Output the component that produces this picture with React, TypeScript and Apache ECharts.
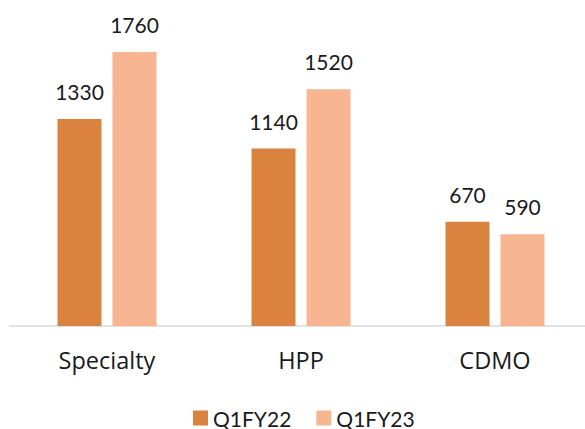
import React, { useEffect, useRef } from "react";
import * as echarts from "echarts";

const categories = ["Specialty", "HPP", "CDMO"];
const q1fy22 = [1330, 1140, 670];
const q1fy23 = [1760, 1520, 590];
const seriesNames = ["Q1FY22", "Q1FY23"];

const FONT = "Lato, 'Open Sans', sans-serif";

export default function App() {
  const ref = useRef<HTMLDivElement>(null);
  useEffect(() => {
    if (!ref.current) return;
    const chart = echarts.init(ref.current, undefined, { renderer: "svg" });
    const label = {
      show: true,
      position: "top" as const,
      distance: 17,
      color: "#1a1a1a",
      fontSize: 21,
      fontFamily: FONT,
    };
    chart.setOption({
      animation: false,
      backgroundColor: "#ffffff",
      grid: { left: 10, right: 8, top: 14.6, bottom: 103 },
      legend: {
        data: seriesNames,
        top: 402.5,
        left: 188,
        itemWidth: 15,
        itemHeight: 15,
        itemGap: 25,
        icon: "rect",
        textStyle: { fontSize: 21, color: "#1a1a1a", fontFamily: FONT },
      },
      xAxis: {
        type: "category",
        data: categories,
        axisLine: { show: true, lineStyle: { color: "#D9D9D9", width: 1.5 } },
        axisTick: { show: false },
        axisLabel: { margin: 22, fontSize: 23.5, color: "#1a1a1a", fontFamily: "'Open Sans', sans-serif" },
      },
      yAxis: {
        type: "value",
        min: 0,
        max: 2000,
        show: false,
        splitLine: { show: false },
      },
      series: [
        {
          name: seriesNames[0],
          type: "bar",
          data: q1fy22,
          barWidth: 44,
          barGap: "25%",
          itemStyle: { color: "#DA8340" },
          label,
        },
        {
          name: seriesNames[1],
          type: "bar",
          data: q1fy23,
          barWidth: 44,
          barGap: "25%",
          itemStyle: { color: "#F8B591" },
          label,
        },
      ],
    });
    return () => chart.dispose();
  }, []);
  return (
    <div style={{ position: "fixed", left: 0, top: 0, width: 585, height: 429, overflow: "hidden" }}>
      <div ref={ref} style={{ width: 600, height: 429 }} />
    </div>
  );
}
